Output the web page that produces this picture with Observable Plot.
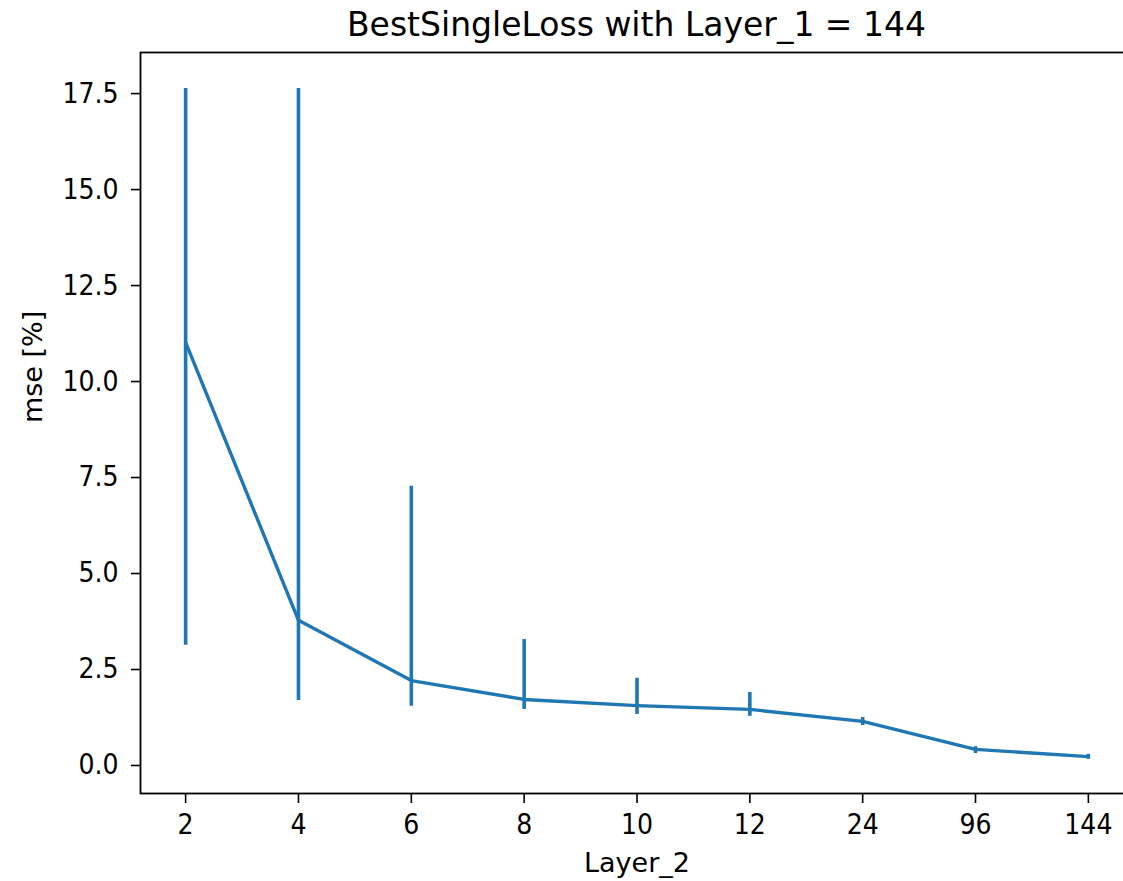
<!DOCTYPE html>
<html>
<head>
<meta charset="utf-8">
<script src="https://cdn.jsdelivr.net/npm/d3@7"></script>
<script src="https://cdn.jsdelivr.net/npm/@observablehq/plot@0.6"></script>
<style>
  html, body { margin: 0; padding: 0; background: #fff; overflow: hidden; }
  #wrap { position: relative; width: 1123px; height: 881px; overflow: hidden; background: #fff; }
  #title { position: absolute; left: 140px; top: 8px; width: 993px; text-align: center;
           font-family: "DejaVu Sans", sans-serif; font-size: 33px; line-height: 33px; color: #000; white-space: nowrap; }
  #chart { position: absolute; left: 0; top: 0; }
  #chart svg { max-width: none !important; }
</style>
</head>
<body>
<div id="wrap">
  <div id="chart"></div>
  <div id="title">BestSingleLoss with Layer_1 = 144</div>
</div>
<script>
const layer2 = ["2", "4", "6", "8", "10", "12", "24", "96", "144"];
const mse = [11.02, 3.78, 2.21, 1.72, 1.56, 1.46, 1.15, 0.42, 0.23];
const errLow = [3.13, 1.69, 1.54, 1.46, 1.33, 1.28, 1.04, 0.31, 0.16];
const errHigh = [17.63, 17.63, 7.27, 3.28, 2.27, 1.90, 1.25, 0.49, 0.29];
const yTicks = [0, 2.5, 5, 7.5, 10, 12.5, 15, 17.5];

const data = layer2.map((k, i) => ({layer: k, mse: mse[i], lo: errLow[i], hi: errHigh[i]}));
const blue = "#1f77b4";
const tickFont = "'DejaVu Sans Condensed', 'DejaVu Sans', sans-serif";
const labelFont = "'DejaVu Sans', sans-serif";

const chart = Plot.plot({
  width: 1133,
  height: 881,
  marginTop: 52,
  marginBottom: 88,
  marginLeft: 140,
  marginRight: 0,
  style: {fontFamily: tickFont, fontSize: "28px", color: "#000", background: "#fff"},
  x: {type: "point", domain: layer2, padding: 0.4, align: 0.5, round: false, axis: null},
  y: {domain: [-0.73, 18.57], axis: null},
  marks: [
    Plot.ruleX(data, {x: "layer", y1: "lo", y2: "hi", stroke: blue, strokeWidth: 3.6}),
    Plot.line(data, {x: "layer", y: "mse", stroke: blue, strokeWidth: 3.4}),
    Plot.axisX(layer2, {tickSize: 10, tickPadding: 11, fontSize: 28, strokeWidth: 1.6, stroke: "#000", fill: "#000", label: null}),
    Plot.axisY(yTicks, {tickSize: 9, tickPadding: 13, fontSize: 28, strokeWidth: 1.6, stroke: "#000", fill: "#000",
      tickFormat: d => d.toFixed(1), label: null}),
    Plot.frame({stroke: "#000", strokeWidth: 1.8}),
    Plot.text(["Layer_2"], {frameAnchor: "bottom", dy: 70, lineAnchor: "middle", fontSize: 27, fontFamily: labelFont, fill: "#000"}),
    Plot.text(["mse [%]"], {frameAnchor: "left", rotate: -90, dx: -107, lineAnchor: "middle", fontSize: 27, fontFamily: labelFont, fill: "#000"})
  ]
});
document.getElementById("chart").appendChild(chart);
</script>
</body>
</html>
